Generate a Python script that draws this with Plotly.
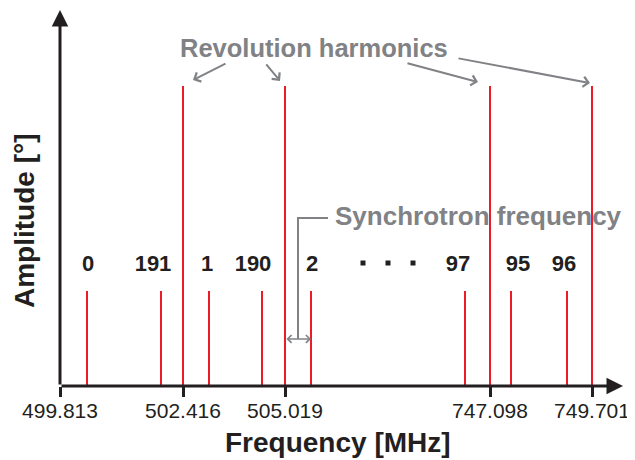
import plotly.graph_objects as go

# ---- data (schematic display positions along a broken frequency axis) ----
tick_pos = [0, 123, 225, 430, 532]
tick_labels = ["499.813", "502.416", "505.019", "747.098", "749.701"]

harmonic_pos = [123, 225, 430, 532]          # revolution harmonics (tall lines)
harmonic_amp = [1.0, 1.0, 1.0, 1.0]

sideband_pos = [27, 101, 149, 202, 251, 405, 451, 507]   # synchrotron sidebands (short lines)
sideband_amp = [0.317, 0.317, 0.317, 0.317, 0.317, 0.317, 0.317, 0.317]

mode_labels = ["0", "191", "1", "190", "2", "97", "95", "96"]
mode_label_pos = [28, 93, 147, 193, 252, 398, 458, 504]
mode_label_y = 0.403

dots_pos = [303, 328, 353]
dots_y = 0.41

X_MAX = 563
Y_MAX = 1.2533

RED = "#ed1c24"
GRAY = "#808285"
BLACK = "#231f20"
FONT = "Liberation Sans, Arial, sans-serif"


def stems(xs, ys):
    X, Y = [], []
    for x, y in zip(xs, ys):
        X += [x, x, None]
        Y += [0, y, None]
    return X, Y


fig = go.Figure()
hx, hy = stems(harmonic_pos, harmonic_amp)
sx, sy = stems(sideband_pos, sideband_amp)
fig.add_trace(go.Scatter(x=hx, y=hy, mode="lines", line=dict(color=RED, width=2),
                         hoverinfo="skip", showlegend=False))
fig.add_trace(go.Scatter(x=sx, y=sy, mode="lines", line=dict(color=RED, width=2),
                         hoverinfo="skip", showlegend=False))
fig.add_trace(go.Scatter(x=mode_label_pos, y=[mode_label_y] * len(mode_labels),
                         mode="text", text=[f"<b>{t}</b>" for t in mode_labels],
                         textfont=dict(family=FONT, size=22, color=BLACK),
                         hoverinfo="skip", showlegend=False))
fig.add_trace(go.Scatter(x=dots_pos, y=[dots_y] * len(dots_pos), mode="markers",
                         marker=dict(symbol="square", size=5, color=BLACK),
                         hoverinfo="skip", showlegend=False))

ann = []
# axis arrows
ann.append(dict(x=0, y=Y_MAX, ax=0, ay=0, xref="x", yref="y", axref="x", ayref="y",
                text="", showarrow=True, arrowhead=2, arrowwidth=3, arrowsize=1.1,
                arrowcolor=BLACK))
ann.append(dict(x=X_MAX, y=0, ax=0, ay=0, xref="x", yref="y", axref="x", ayref="y",
                text="", showarrow=True, arrowhead=2, arrowwidth=3, arrowsize=1.1,
                arrowcolor=BLACK))

# revolution harmonics label and arrows
ann.append(dict(x=254, y=1.127, xref="x", yref="y", text="<b>Revolution harmonics</b>",
                showarrow=False, font=dict(family=FONT, size=25.5, color=GRAY)))
rev_arrows = [((167, 1.077), (133, 1.02)), ((205, 1.077), (220, 1.017)),
              ((346, 1.077), (418, 1.013)), ((397, 1.093), (530, 1.01))]
for (tx, ty), (hx_, hy_) in rev_arrows:
    ann.append(dict(x=hx_, y=hy_, ax=tx, ay=ty, xref="x", yref="y", axref="x", ayref="y",
                    text="", showarrow=True, arrowhead=4, arrowwidth=2, arrowsize=1,
                    arrowcolor=GRAY))

# synchrotron frequency
ann.append(dict(x=273, y=0.567, xref="x", yref="y", text="<b>Synchrotron frequency</b>",
                showarrow=False, xanchor="left", font=dict(family=FONT, size=26, color=GRAY)))
ann.append(dict(x=sideband_pos[4], y=0.157, ax=harmonic_pos[1], ay=0.157,
                xref="x", yref="y", axref="x", ayref="y", text="", showarrow=True,
                arrowhead=4, startarrowhead=4, arrowside="end+start", arrowwidth=1.5,
                arrowsize=1, startarrowsize=1, arrowcolor=GRAY))

# axis titles
ann.append(dict(x=278, y=0, xref="x", yref="y", yshift=-56, text="<b>Frequency [MHz]</b>",
                showarrow=False, font=dict(family=FONT, size=28, color=BLACK)))
ann.append(dict(x=-36 / 563, y=0.55, xref="paper", yref="y", xanchor="center", yanchor="middle",
                text="<b>Amplitude [°]</b>",
                textangle=-90, showarrow=False, font=dict(family=FONT, size=28, color=BLACK)))

mid = (harmonic_pos[1] + sideband_pos[4]) / 2
shapes = [dict(type="path", xref="x", yref="y",
               path=f"M 268,0.56 L {mid},0.56 L {mid},0.157",
               line=dict(color=GRAY, width=2))]

# the page body has an 8px default margin, so the figure is sized/offset to compensate
fig.update_layout(
    width=627, height=452,
    margin=dict(l=52, r=12, t=2, b=74, autoexpand=False),
    paper_bgcolor="white", plot_bgcolor="white",
    annotations=ann, shapes=shapes,
    xaxis=dict(range=[0, X_MAX], showgrid=False, zeroline=False, showline=False,
               automargin=False,
               tickmode="array", tickvals=tick_pos, ticktext=tick_labels,
               ticks="outside", ticklen=10, tickwidth=3, tickcolor=BLACK,
               ticklabelstandoff=-4,
               tickfont=dict(family=FONT, size=21, color=BLACK)),
    yaxis=dict(range=[0, Y_MAX], showgrid=False, zeroline=False, showline=False,
               automargin=False, showticklabels=False, ticks=""),
    font=dict(family=FONT),
)

fig.write_html("out.html")
